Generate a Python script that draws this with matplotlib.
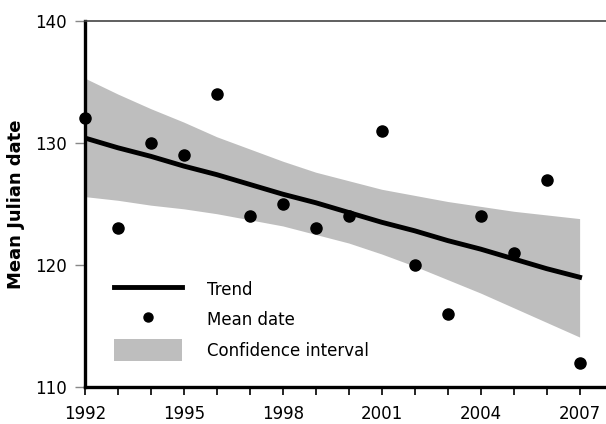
import matplotlib
matplotlib.use('Agg')
import matplotlib.pyplot as plt
from matplotlib.patches import Patch
from matplotlib.lines import Line2D

years = [1992, 1993, 1994, 1995, 1996, 1997, 1998, 1999,
         2000, 2001, 2002, 2003, 2004, 2005, 2006, 2007]
mean_date = [132, 123, 130, 129, 134, 124, 125, 123,
             124, 131, 120, 116, 124, 121, 127, 112]
trend = [130.4, 129.6, 128.9, 128.1, 127.4, 126.6, 125.8, 125.1,
         124.3, 123.5, 122.8, 122.0, 121.3, 120.5, 119.7, 119.0]
ci_upper = [135.3, 134.0, 132.8, 131.7, 130.5, 129.5, 128.5, 127.6,
            126.9, 126.2, 125.7, 125.2, 124.8, 124.4, 124.1, 123.8]
ci_lower = [125.6, 125.3, 124.9, 124.6, 124.2, 123.7, 123.2, 122.5,
            121.8, 120.9, 119.9, 118.8, 117.7, 116.5, 115.3, 114.1]
xtick_years = [1992, 1995, 1998, 2001, 2004, 2007]
yticks = [110, 120, 130, 140]

fig = plt.figure(figsize=(6.06, 4.24), dpi=100)
ax = fig.add_axes([0.14, 0.087, 0.86, 0.864])

ax.fill_between(years, ci_lower, ci_upper, color='#bebebe', lw=0, zorder=1)
ax.plot(years, trend, color='black', lw=3.5, zorder=2)
ax.plot(years, mean_date, 'o', color='black', ms=8, zorder=3, clip_on=False)

ax.set_xlim(1992, 2007.8)
ax.set_ylim(110, 140)
ax.set_xticks(years, minor=True)
ax.set_xticks(xtick_years)
ax.set_yticks(yticks)
ax.tick_params(axis='both', which='both', direction='out', labelsize=12)
ax.tick_params(axis='x', which='both', length=6, width=1.2, pad=7, color='black')
ax.tick_params(axis='y', length=7, width=1, pad=6, color='#888888')

for s in ['left', 'bottom']:
    ax.spines[s].set_linewidth(2.4)
ax.spines['right'].set_visible(False)
ax.spines['top'].set_linewidth(1.2)
ax.spines['top'].set_color('#444444')

ax.set_ylabel('Mean Julian date', fontsize=13, fontweight='bold', labelpad=7)

handles = [Line2D([], [], color='black', lw=3.5),
           Line2D([], [], marker='o', ls='none', color='black', ms=6.5),
           Patch(facecolor='#bebebe', edgecolor='none')]
ax.legend(handles, ['Trend', 'Mean date', 'Confidence interval'],
          loc='upper left', bbox_to_anchor=(0.056, 0.296), frameon=False,
          borderpad=0, borderaxespad=0,
          fontsize=12, handlelength=4.1, handleheight=1.65, labelspacing=0.5,
          handletextpad=1.5)

fig.savefig('out.png', dpi=100)
